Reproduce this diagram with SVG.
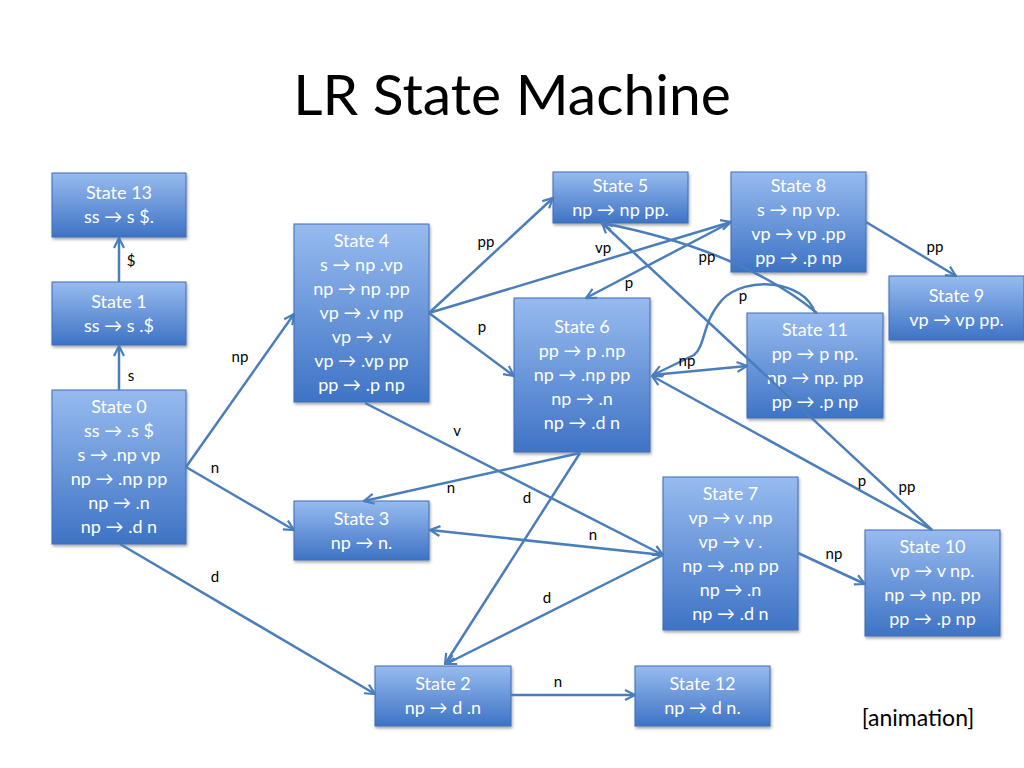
<svg xmlns="http://www.w3.org/2000/svg" width="1024" height="768" viewBox="0 0 1024 768">
<defs>
<linearGradient id="g" x1="0" y1="0" x2="0" y2="1">
<stop offset="0" stop-color="#97bbef"/>
<stop offset="1" stop-color="#3e73c5"/>
</linearGradient>
<filter id="sh" x="-10%" y="-10%" width="130%" height="130%">
<feDropShadow dx="1" dy="2" stdDeviation="1.5" flood-color="#000" flood-opacity="0.35"/>
</filter>
<marker id="ah" viewBox="0 0 12 12" refX="11" refY="6" markerWidth="12" markerHeight="12" markerUnits="userSpaceOnUse" orient="auto">
<path d="M1,1 L11,6 L1,11" fill="none" stroke="#4a7ebb" stroke-width="2.2" stroke-linejoin="miter"/>
</marker>
<style>
.box{fill:url(#g);stroke:#3d6db4;stroke-width:1;filter:url(#sh)}
.nt{font-family:Lato,"Liberation Sans","DejaVu Sans",sans-serif;font-size:18px;fill:#fff;text-anchor:middle}
.e{fill:none;stroke:#4a7ebb;stroke-width:2.5;marker-end:url(#ah)}
.lb{font-family:Lato,"Liberation Sans",sans-serif;font-size:15px;fill:#000;text-anchor:middle}
.title{font-family:Lato,"Liberation Sans",sans-serif;font-size:57px;fill:#000;text-anchor:middle}
</style>
</defs>
<rect width="1024" height="768" fill="#fff"/>
<text class="title" x="512" y="115">LR State Machine</text>

<g id="state13"><rect class="box" x="52" y="173" width="134" height="64"/>
<text class="nt"><tspan x="119" y="199">State 13</tspan><tspan x="119" y="223">ss → s $.</tspan></text></g>

<g id="state1"><rect class="box" x="52" y="282" width="134" height="63"/>
<text class="nt"><tspan x="119" y="308">State 1</tspan><tspan x="119" y="332">ss → s .$</tspan></text></g>

<g id="state0"><rect class="box" x="52" y="390" width="134" height="154"/>
<text class="nt"><tspan x="119" y="413">State 0</tspan><tspan x="119" y="437">ss → .s $</tspan><tspan x="119" y="461">s → .np vp</tspan><tspan x="119" y="485">np → .np pp</tspan><tspan x="119" y="509">np → .n</tspan><tspan x="119" y="533">np → .d n</tspan></text></g>

<g id="state4"><rect class="box" x="294" y="224" width="135" height="178"/>
<text class="nt"><tspan x="361.5" y="247">State 4</tspan><tspan x="361.5" y="271">s → np .vp</tspan><tspan x="361.5" y="295">np → np .pp</tspan><tspan x="361.5" y="319">vp → .v np</tspan><tspan x="361.5" y="343">vp → .v</tspan><tspan x="361.5" y="367">vp → .vp pp</tspan><tspan x="361.5" y="391">pp → .p np</tspan></text></g>

<g id="state5"><rect class="box" x="553" y="172" width="135" height="51"/>
<text class="nt"><tspan x="620.5" y="192">State 5</tspan><tspan x="620.5" y="216">np → np pp.</tspan></text></g>

<g id="state8"><rect class="box" x="731" y="172" width="135" height="100"/>
<text class="nt"><tspan x="798.5" y="192">State 8</tspan><tspan x="798.5" y="216">s → np vp.</tspan><tspan x="798.5" y="240">vp → vp .pp</tspan><tspan x="798.5" y="264">pp → .p np</tspan></text></g>

<g id="state9"><rect class="box" x="889" y="276" width="135" height="64"/>
<text class="nt"><tspan x="956.5" y="302">State 9</tspan><tspan x="956.5" y="326">vp → vp pp.</tspan></text></g>

<g id="state6"><rect class="box" x="514" y="298" width="136" height="154"/>
<text class="nt"><tspan x="582" y="333">State 6</tspan><tspan x="582" y="357">pp → p .np</tspan><tspan x="582" y="381">np → .np pp</tspan><tspan x="582" y="405">np → .n</tspan><tspan x="582" y="429">np → .d n</tspan></text></g>

<g id="state11"><rect class="box" x="747" y="313" width="136" height="105"/>
<text class="nt"><tspan x="815" y="336">State 11</tspan><tspan x="815" y="360">pp → p np.</tspan><tspan x="815" y="384">np → np. pp</tspan><tspan x="815" y="408">pp → .p np</tspan></text></g>

<g id="state3"><rect class="box" x="294" y="501" width="135" height="59"/>
<text class="nt"><tspan x="361.5" y="525">State 3</tspan><tspan x="361.5" y="549">np → n.</tspan></text></g>

<g id="state7"><rect class="box" x="663" y="477" width="135" height="153"/>
<text class="nt"><tspan x="730.5" y="500">State 7</tspan><tspan x="730.5" y="524">vp → v .np</tspan><tspan x="730.5" y="548">vp → v .</tspan><tspan x="730.5" y="572">np → .np pp</tspan><tspan x="730.5" y="596">np → .n</tspan><tspan x="730.5" y="620">np → .d n</tspan></text></g>

<g id="state10"><rect class="box" x="865" y="530" width="135" height="106"/>
<text class="nt"><tspan x="932.5" y="553">State 10</tspan><tspan x="932.5" y="577">vp → v np.</tspan><tspan x="932.5" y="601">np → np. pp</tspan><tspan x="932.5" y="625">pp → .p np</tspan></text></g>

<g id="state2"><rect class="box" x="375" y="666" width="136" height="60"/>
<text class="nt"><tspan x="443" y="690">State 2</tspan><tspan x="443" y="714">np → d .n</tspan></text></g>

<g id="state12"><rect class="box" x="635" y="666" width="135" height="60"/>
<text class="nt"><tspan x="702.5" y="690">State 12</tspan><tspan x="702.5" y="714">np → d n.</tspan></text></g>

<g id="connectors">
<path class="e" d="M119,282 L119,238"/>
<path class="e" d="M119,390 L119,346"/>
<path class="e" d="M186,467 L294,314"/>
<path class="e" d="M186,467 L294,530"/>
<path class="e" d="M120,544 L375,694"/>
<path class="e" d="M429,313 L553,198"/>
<path class="e" d="M429,313 L731,222"/>
<path class="e" d="M429,313 L514,376"/>
<path class="e" d="M365,403 L663,555"/>
<path class="e" d="M866,222 L956,276"/>
<path class="e" d="M731,222 L586,298"/>
<path class="e" d="M817,313 Q740,250 602,223"/>
<path class="e" d="M932,530 L602,223"/>
<path class="e" d="M932,530 L652,376"/>
<path class="e" d="M652,375 L747,366"/>
<path class="e" d="M815,313 C805,280 745,275 722,300 C702,322 706,345 694,355 L653,375"/>
<path class="e" d="M580,453 L364,501"/>
<path class="e" d="M580,453 L445,664"/>
<path class="e" d="M663,555 L430,530"/>
<path class="e" d="M663,555 L446,664"/>
<path class="e" d="M798,553 L865,584"/>
<path class="e" d="M511,695 L635,695"/>
<text class="lb" x="131" y="266">$</text>
<text class="lb" x="131" y="381">s</text>
<text class="lb" x="240" y="362">np</text>
<text class="lb" x="215" y="473">n</text>
<text class="lb" x="215" y="582">d</text>
<text class="lb" x="486" y="247">pp</text>
<text class="lb" x="603" y="253">vp</text>
<text class="lb" x="482" y="332">p</text>
<text class="lb" x="457" y="436">v</text>
<text class="lb" x="935" y="252">pp</text>
<text class="lb" x="629" y="288">p</text>
<text class="lb" x="707" y="262">pp</text>
<text class="lb" x="743" y="301">p</text>
<text class="lb" x="687" y="366">np</text>
<text class="lb" x="862" y="486">p</text>
<text class="lb" x="907" y="492">pp</text>
<text class="lb" x="451" y="493">n</text>
<text class="lb" x="527" y="503">d</text>
<text class="lb" x="593" y="540">n</text>
<text class="lb" x="547" y="603">d</text>
<text class="lb" x="834" y="559">np</text>
<text class="lb" x="558" y="687">n</text>
</g>

<text x="918" y="726" font-family="Lato,'Liberation Sans',sans-serif" font-size="23" text-anchor="middle" fill="#000">[animation]</text>
</svg>
